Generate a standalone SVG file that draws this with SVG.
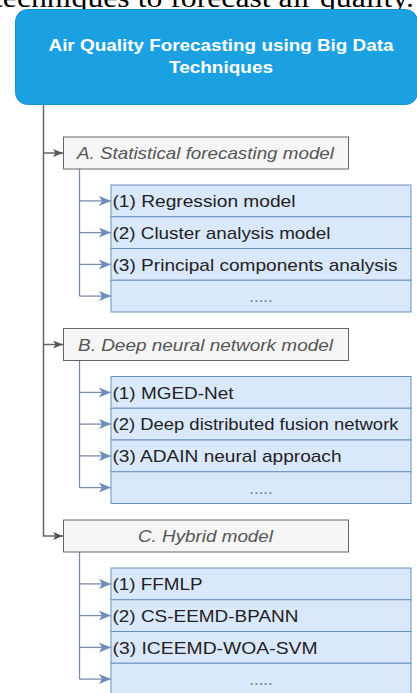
<svg xmlns="http://www.w3.org/2000/svg" width="417" height="693" viewBox="0 0 417 693">
<style>
.cap{font-family:"Liberation Serif","Times New Roman",serif;font-size:28px;fill:#000}
.title{font-family:"Liberation Sans",Arial,sans-serif;font-size:16px;font-weight:bold;fill:#fff;text-anchor:middle}
.sec rect{fill:#f5f5f5;stroke:#666;stroke-width:1}
.sec text{font-family:"Liberation Sans",Arial,sans-serif;font-size:17px;font-style:italic;fill:#555;text-anchor:middle}
.item rect{fill:#dae8fc;stroke:#6c8ebf;stroke-width:1}
.item text{font-family:"Liberation Sans",Arial,sans-serif;font-size:17px;fill:#222}
.item text.dots{fill:#777;text-anchor:middle}
.main{fill:none;stroke:#666;stroke-width:1.5;marker-end:url(#ah)}
.mainline{fill:none;stroke:#666;stroke-width:1.5}
.sub{fill:none;stroke:#7d8bab;stroke-width:1.3}
.subarr{fill:none;stroke:#7d8bab;stroke-width:1.3;marker-end:url(#ahb)}
</style>
<defs>
<marker id="ah" markerUnits="userSpaceOnUse" markerWidth="12" markerHeight="10" refX="10" refY="4" orient="auto"><path d="M0,0 L10,4 L0,8 L2.5,4 Z" fill="#555"/></marker>
<marker id="ahb" markerUnits="userSpaceOnUse" markerWidth="13" markerHeight="11" refX="12" refY="5" orient="auto"><path d="M0,0 L12,5 L0,10 L3,5 Z" fill="#6c8ebf"/></marker>
</defs>
<rect x="0" y="0" width="417" height="693" fill="#fff"/>
<text class="cap" x="-6" y="7" textLength="420" lengthAdjust="spacingAndGlyphs">techniques to forecast air quality.</text>

<g id="root">
<rect x="15.5" y="9.5" width="402" height="95" rx="12" fill="#1ba1e2" stroke="#1590cc"/>
<text class="title" x="221" y="51" textLength="345" lengthAdjust="spacingAndGlyphs">Air Quality Forecasting using Big Data</text>
<text class="title" x="221" y="73" textLength="104" lengthAdjust="spacingAndGlyphs">Techniques</text>
</g>

<g id="connectors">
<path class="main" d="M43.5,105 V536 H63"/>
<path class="main" d="M43.5,153 H63"/>
<path class="main" d="M43.5,344.5 H63"/>
<path class="sub" d="M79.5,169 V296.1"/>
<path class="subarr" d="M79.5,200.9 H111"/>
<path class="subarr" d="M79.5,232.6 H111"/>
<path class="subarr" d="M79.5,264.4 H111"/>
<path class="subarr" d="M79.5,296.1 H111"/>
<path class="sub" d="M79.5,360.5 V487.6"/>
<path class="subarr" d="M79.5,392.4 H111"/>
<path class="subarr" d="M79.5,424.1 H111"/>
<path class="subarr" d="M79.5,455.9 H111"/>
<path class="subarr" d="M79.5,487.6 H111"/>
<path class="sub" d="M79.5,552 V679.1"/>
<path class="subarr" d="M79.5,583.9 H111"/>
<path class="subarr" d="M79.5,615.6 H111"/>
<path class="subarr" d="M79.5,647.4 H111"/>
<path class="subarr" d="M79.5,679.1 H111"/>
</g>

<g id="secA" class="sec"><rect x="63.5" y="137" width="285" height="32"/><text x="205.5" y="159" textLength="257" lengthAdjust="spacingAndGlyphs">A. Statistical forecasting model</text></g>
<g id="secB" class="sec"><rect x="63.5" y="328.5" width="285" height="32"/><text x="205.5" y="350.5" textLength="255" lengthAdjust="spacingAndGlyphs">B. Deep neural network model</text></g>
<g id="secC" class="sec"><rect x="63.5" y="520" width="285" height="32"/><text x="205.5" y="542" textLength="135" lengthAdjust="spacingAndGlyphs">C. Hybrid model</text></g>

<g id="a1" class="item"><rect x="111" y="185" width="300" height="31.75"/><text x="112.5" y="207" textLength="183" lengthAdjust="spacingAndGlyphs">(1) Regression model</text></g>
<g id="a2" class="item"><rect x="111" y="216.75" width="300" height="31.75"/><text x="112.5" y="238.75" textLength="218" lengthAdjust="spacingAndGlyphs">(2) Cluster analysis model</text></g>
<g id="a3" class="item"><rect x="111" y="248.5" width="300" height="31.75"/><text x="112.5" y="270.5" textLength="285" lengthAdjust="spacingAndGlyphs">(3) Principal components analysis</text></g>
<g id="a4" class="item"><rect x="111" y="280.25" width="300" height="31.75"/><text class="dots" x="261" y="302.25">.....</text></g>

<g id="b1" class="item"><rect x="111" y="376.5" width="300" height="31.75"/><text x="112.5" y="398.5" textLength="121" lengthAdjust="spacingAndGlyphs">(1) MGED-Net</text></g>
<g id="b2" class="item"><rect x="111" y="408.25" width="300" height="31.75"/><text x="112.5" y="430.25" textLength="286" lengthAdjust="spacingAndGlyphs">(2) Deep distributed fusion network</text></g>
<g id="b3" class="item"><rect x="111" y="440" width="300" height="31.75"/><text x="112.5" y="462" textLength="229" lengthAdjust="spacingAndGlyphs">(3) ADAIN neural approach</text></g>
<g id="b4" class="item"><rect x="111" y="471.75" width="300" height="31.75"/><text class="dots" x="261" y="493.75">.....</text></g>

<g id="c1" class="item"><rect x="111" y="568" width="300" height="31.75"/><text x="112.5" y="590" textLength="90" lengthAdjust="spacingAndGlyphs">(1) FFMLP</text></g>
<g id="c2" class="item"><rect x="111" y="599.75" width="300" height="31.75"/><text x="112.5" y="621.75" textLength="186" lengthAdjust="spacingAndGlyphs">(2) CS-EEMD-BPANN</text></g>
<g id="c3" class="item"><rect x="111" y="631.5" width="300" height="31.75"/><text x="112.5" y="653.5" textLength="205" lengthAdjust="spacingAndGlyphs">(3) ICEEMD-WOA-SVM</text></g>
<g id="c4" class="item"><rect x="111" y="663.25" width="300" height="31.75"/><text class="dots" x="261" y="685.25">.....</text></g>
</svg>
